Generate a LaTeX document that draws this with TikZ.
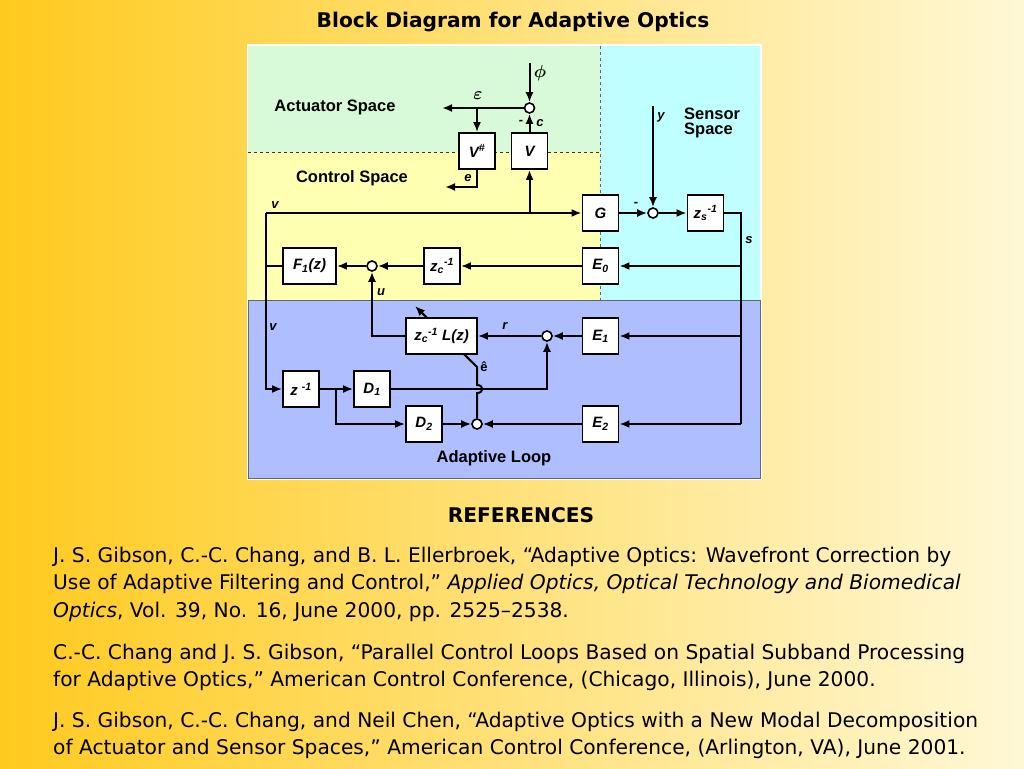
\documentclass[tikz,border=0pt]{standalone}
\usepackage{fontspec}
\setmainfont{Liberation Sans}
\newfontfamily\reffont{DejaVu Sans}
\usetikzlibrary{arrows.meta}
\pgfdeclarelayer{fond}
\pgfsetlayers{fond,main}

\definecolor{orangefond}{RGB}{255,202,30}
\definecolor{milieufond}{RGB}{255,228,140}
\definecolor{jaunefond}{RGB}{255,248,214}
\definecolor{actuator}{RGB}{216,250,216}
\definecolor{control}{RGB}{255,255,178}
\definecolor{sensor}{RGB}{192,255,255}
\definecolor{adaptive}{RGB}{174,190,255}

\tikzset{
  blk/.style={draw, fill=white, line width=1.8pt, minimum width=36pt, minimum height=36pt,
    inner sep=0pt, font=\bfseries\itshape\fontsize{15}{15}\selectfont},
  sumc/.style={circle, draw, fill=white, line width=1.6pt, minimum size=10pt, inner sep=0pt},
  fl/.style={-{Latex[length=10pt,width=8pt]}, line width=2pt},
  trait/.style={line width=2pt},
  lbl/.style={font=\bfseries\itshape\fontsize{13}{13}\selectfont},
  zone/.style={font=\bfseries\fontsize{16.5}{15}\selectfont},
  reftxt/.style={anchor=base west, inner sep=0pt, font=\reffont\fontsize{20.2}{24}\selectfont}
}

\begin{document}
\begin{tikzpicture}[x=1pt,y=-1pt]
	\useasboundingbox (0,0) rectangle (1024,768);
	% le fond et les zones
	\begin{pgfonlayer}{fond}
	\shade[left color=orangefond, middle color=milieufond, right color=jaunefond] (0,0) rectangle (1024,768);
	\fill[white] (246.5,44.5) rectangle (761.5,479.5);
	\fill[actuator] (248,46) rectangle (600,152);
	\fill[control] (248,152) rectangle (600,300);
	\fill[sensor] (600,46) rectangle (760,300);
	\fill[adaptive] (248,300) rectangle (760,478);
	\draw[black!60, line width=1pt] (248,300) rectangle (760,478);
	\draw[dashed, black!80, line width=1pt] (248,152) -- (600,152);
	\draw[dashed, black!60, line width=1pt] (600,46) -- (600,300);
	\end{pgfonlayer}
	% les titres
	\node[font=\reffont\bfseries\fontsize{20.2}{24}\selectfont] (titre) at (513,22) {Block Diagram for Adaptive Optics};
	\node[zone] (actsp) at (335,107) {Actuator Space};
	\node[zone] (ctrlsp) at (352,178) {Control Space};
	\node[zone, align=left, anchor=west, inner sep=0pt] (senssp) at (684,123) {Sensor\\Space};
	\node[zone] (adaplp) at (494,458) {Adaptive Loop};
	% les blocs
	\node[blk] (Vd) at (477,151) {V\textsuperscript{\#}};
	\node[blk] (V) at (529.5,151) {V};
	\node[sumc] (s1) at (529.5,108) {};
	\node[blk] (G) at (600.5,213) {G};
	\node[sumc] (s2) at (653,213) {};
	\node[blk] (Zs) at (705.5,213) {z\textsubscript{s}\textsuperscript{-1}};
	\node[blk] (E0) at (600.5,266) {E\textsubscript{0}};
	\node[blk] (Zc) at (442,266) {z\textsubscript{c}\textsuperscript{-1}};
	\node[sumc] (s3) at (372,266) {};
	\node[blk, minimum width=53pt] (F1) at (309.5,266) {F\textsubscript{1}(z)};
	\node[blk, minimum width=71pt] (L) at (441.5,336) {z\textsubscript{c}\textsuperscript{-1} L(z)};
	\node[sumc] (s4) at (547,336) {};
	\node[blk] (E1) at (600.5,336) {E\textsubscript{1}};
	\node[blk] (Zi) at (301,389) {z \textsuperscript{-1}};
	\node[blk] (D1) at (372,389) {D\textsubscript{1}};
	\node[blk] (D2) at (424,424) {D\textsubscript{2}};
	\node[sumc] (s5) at (477,424) {};
	\node[blk] (E2) at (600.5,424) {E\textsubscript{2}};
	% les points libres
	\coordinate (phi) at (529.5,63);
	\coordinate (eps) at (442,108);
	\coordinate (e) at (445,187);
	\coordinate (y) at (653,106);
	\coordinate (vg) at (266,213);
	\coordinate (sb) at (741,424);
	\coordinate (br) at (336,389);
	\coordinate (jb) at (477,393);
	\coordinate (jh) at (477,385);
	\coordinate (ec) at (477,367);
	\coordinate (adapt) at (415,306);
	% les liaisons
	\draw[fl] (phi) -- (s1);
	\draw[fl] (s1) -- (eps);
	\draw[fl] (Vd.north |- s1) -- (Vd.north);
	\draw[fl] (V.north) -- (s1.south);
	\draw[fl] (Vd.south) |- (e);
	\draw[fl] (vg) -- (G.west);
	\draw[fl] (V.south |- vg) -- (V.south);
	\draw[fl] (vg) |- (Zi.west);
	\draw[trait] (F1.west) -- (F1.west -| vg);
	\draw[fl] (G) -- (s2);
	\draw[fl] (y) -- (s2);
	\draw[fl] (s2) -- (Zs);
	\draw[trait] (Zs.east) -| (sb);
	\draw[fl] (sb) -- (E2.east);
	\draw[fl] (E0.east -| sb) -- (E0.east);
	\draw[fl] (E1.east -| sb) -- (E1.east);
	\draw[fl] (E0) -- (Zc);
	\draw[fl] (Zc) -- (s3);
	\draw[fl] (s3) -- (F1);
	\draw[fl] (L.west) -| (s3.south);
	\draw[fl] (E1) -- (s4);
	\draw[fl] (s4) -- (L);
	\draw[fl] (Zi) -- (D1);
	\draw[fl] (br) |- (D2.west);
	\draw[fl] (D1.east) -| (s4.south);
	\draw[fl] (D2) -- (s5);
	\draw[fl] (E2) -- (s5);
	% la fleche d'adaptation, sous le bloc L
	\begin{pgfonlayer}{fond}
	\draw[fl] (s5.north) -- (jb) .. controls +(7,0) and +(7,0) .. (jh) -- (ec) -- (adapt);
	\end{pgfonlayer}
	% les etiquettes
	\node[font=\fontsize{16}{16}\selectfont\boldmath] at (540,73) {$\phi$};
	\node[font=\fontsize{16}{16}\selectfont\boldmath] at (478,96) {$\varepsilon$};
	\node[lbl] at (521,122) {-};
	\node[lbl] at (540,123) {c};
	\node[lbl] at (468,178) {e};
	\node[lbl] at (275,205) {v};
	\node[lbl] at (273,327) {v};
	\node[lbl] at (636,204) {-};
	\node[lbl] at (661,117) {y};
	\node[lbl] at (749,240) {s};
	\node[lbl] at (381,292) {u};
	\node[lbl] at (505,326) {r};
	\node[font=\bfseries\fontsize{13}{13}\selectfont] at (484,367) {\^{e}};
	% les references
	\node[font=\reffont\bfseries\fontsize{20.2}{24}\selectfont] (refs) at (521,515) {REFERENCES};
	\node[reftxt] (r1a) at (53,562) {J. S. Gibson, C.-C. Chang, and B. L. Ellerbroek, “Adaptive Optics: Wavefront Correction by};
	\node[reftxt] (r1b) at (53,589.5) {Use of Adaptive Filtering and Control,” \textit{Applied Optics, Optical Technology and Biomedical}};
	\node[reftxt] (r1c) at (53,617) {\textit{Optics}, Vol. 39, No. 16, June 2000, pp. 2525–2538.};
	\node[reftxt] (r2a) at (53,659) {C.-C. Chang and J. S. Gibson, “Parallel Control Loops Based on Spatial Subband Processing};
	\node[reftxt] (r2b) at (53,686.5) {for Adaptive Optics,” American Control Conference, (Chicago, Illinois), June 2000.};
	\node[reftxt] (r3a) at (53,727) {J. S. Gibson, C.-C. Chang, and Neil Chen, “Adaptive Optics with a New Modal Decomposition};
	\node[reftxt] (r3b) at (53,754.5) {of Actuator and Sensor Spaces,” American Control Conference, (Arlington, VA), June 2001.};
\end{tikzpicture}
\end{document}
